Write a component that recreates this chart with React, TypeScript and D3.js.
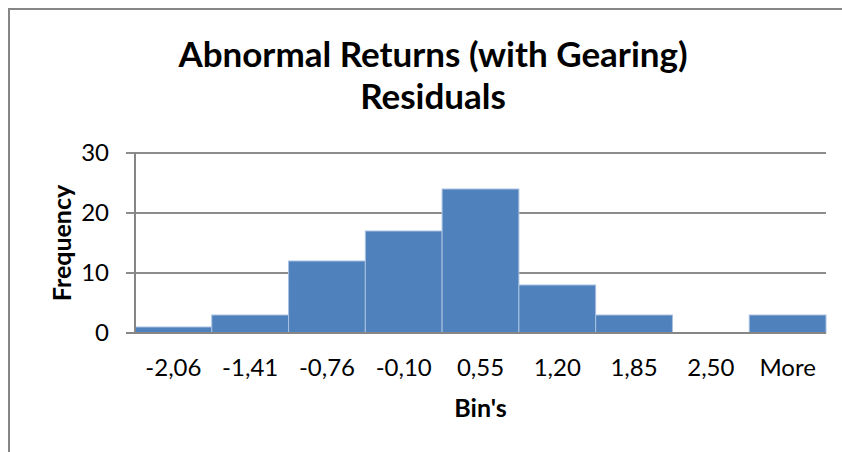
import React, { useRef, useEffect } from 'react';
import * as d3 from 'd3';

// histogram of residuals (Excel style)
const TITLE_LINES = ['Abnormal Returns (with Gearing)', 'Residuals'];
const BINS = ['-2,06', '-1,41', '-0,76', '-0,10', '0,55', '1,20', '1,85', '2,50', 'More'];
const FREQUENCY = [1, 3, 12, 17, 24, 8, 3, 0, 3];
const Y_TICKS = [0, 10, 20, 30];
const X_TITLE = "Bin's";
const Y_TITLE = 'Frequency';

const FONT = 'Lato, "Open Sans", sans-serif';

function App() {
  const ref = useRef<SVGSVGElement>(null);

  useEffect(() => {
    const svg = d3.select(ref.current);
    svg.selectAll('*').remove();

    const left = 135;
    const right = 826;
    const top = 153;
    const bottom = 333;

    const x = d3.scaleBand<string>().domain(BINS).range([left, right]).padding(0);
    const y = d3.scaleLinear().domain([0, 30]).range([bottom, top]);

    // outer chart frame: only top and left edges are in view
    svg.append('path')
      .attr('d', 'M9,452 V9 H842')
      .attr('fill', 'none')
      .attr('stroke', '#868686')
      .attr('stroke-width', 2);

    // title
    svg.append('text')
      .attr('text-anchor', 'middle')
      .style('font-family', FONT)
      .style('font-weight', 'bold')
      .style('font-size', '35px')
      .attr('fill', '#000')
      .selectAll('tspan')
      .data(TITLE_LINES)
      .enter()
      .append('tspan')
      .attr('x', 433)
      .attr('y', (d, i) => 67 + i * 42)
      .text(d => d);

    // gridlines + tick stubs
    svg.append('g')
      .selectAll('line')
      .data(Y_TICKS.filter(t => t > 0))
      .enter()
      .append('line')
      .attr('x1', left - 9).attr('x2', right)
      .attr('y1', d => y(d)).attr('y2', d => y(d))
      .attr('stroke', '#8c8c8c')
      .attr('stroke-width', 2);

    // bars
    svg.append('g')
      .selectAll('rect')
      .data(FREQUENCY)
      .enter()
      .append('rect')
      .attr('x', (d, i) => x(BINS[i])!)
      .attr('y', d => y(d))
      .attr('width', x.bandwidth())
      .attr('height', d => bottom - y(d))
      .attr('fill', '#4F81BD')
      .attr('stroke', d => d > 0 ? '#A9C1E0' : 'none')
      .attr('stroke-width', 1);

    // axes lines
    svg.append('line')
      .attr('x1', left).attr('x2', left)
      .attr('y1', top).attr('y2', bottom)
      .attr('stroke', '#868686')
      .attr('stroke-width', 2);
    svg.append('line')
      .attr('x1', left - 9).attr('x2', right)
      .attr('y1', bottom).attr('y2', bottom)
      .attr('stroke', '#868686')
      .attr('stroke-width', 2);

    // y tick labels
    svg.append('g')
      .selectAll('text')
      .data(Y_TICKS)
      .enter()
      .append('text')
      .attr('x', 109)
      .attr('y', d => y(d))
      .attr('dy', '0.35em')
      .attr('text-anchor', 'end')
      .style('font-family', FONT)
      .style('font-size', '24px')
      .attr('fill', '#000')
      .text(d => d);

    // x tick labels
    svg.append('g')
      .selectAll('text')
      .data(BINS)
      .enter()
      .append('text')
      .attr('x', d => x(d)! + x.bandwidth() / 2)
      .attr('y', 376)
      .attr('text-anchor', 'middle')
      .style('font-family', FONT)
      .style('font-size', '24px')
      .attr('fill', '#000')
      .text(d => d);

    // axis titles
    svg.append('text')
      .attr('x', (left + right) / 2)
      .attr('y', 417)
      .attr('text-anchor', 'middle')
      .style('font-family', FONT)
      .style('font-weight', 'bold')
      .style('font-size', '25px')
      .attr('fill', '#000')
      .text(X_TITLE);

    svg.append('text')
      .attr('transform', `translate(71, ${(top + bottom) / 2}) rotate(-90)`)
      .attr('text-anchor', 'middle')
      .style('font-family', FONT)
      .style('font-weight', 'bold')
      .style('font-size', '25px')
      .attr('fill', '#000')
      .text(Y_TITLE);
  }, []);

  return (
    <svg
      ref={ref}
      width={842}
      height={452}
      style={{ position: 'fixed', left: 0, top: 0, display: 'block', background: 'white', overflow: 'hidden' }}
    />
  );
}

export default App;
